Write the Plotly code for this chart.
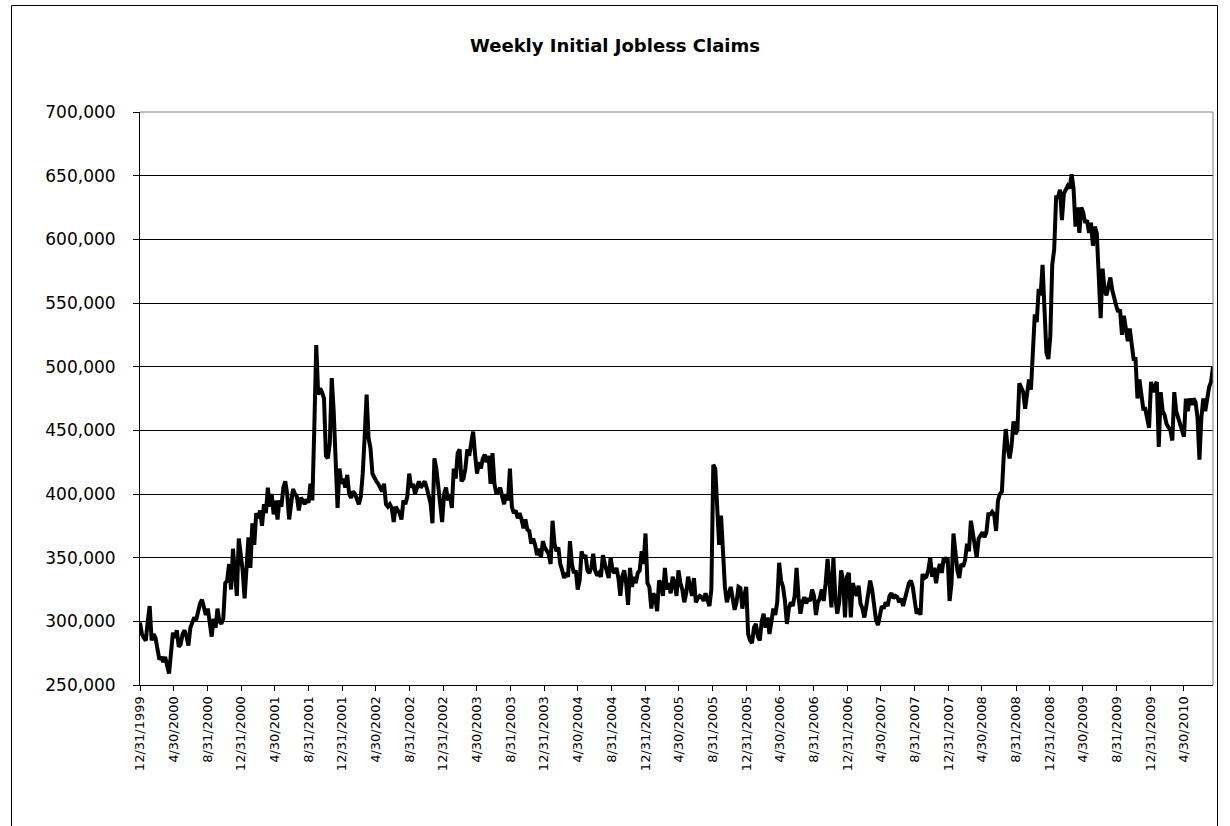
import pandas as pd
import plotly.graph_objects as go

# Weekly initial jobless claims (thousands)
claims_2000 = [299, 290, 287, 285, 300, 312, 285, 290, 287, 278, 270, 272, 268, 272, 265, 259, 275, 291,
               287, 293, 280, 282, 290, 293, 288, 281, 295, 300, 303, 301, 308, 314, 317, 312, 305, 310,
               300, 288, 302, 295, 310, 300, 298, 302, 330, 332, 345, 325, 357, 340, 320, 365, 355]
claims_2001 = [340, 318, 345, 366, 342, 377, 360, 385, 381, 387, 375, 392, 385, 405, 390, 400, 384, 395,
               380, 395, 390, 405, 410, 400, 380, 395, 404, 400, 398, 387, 397, 395, 392, 396, 393, 408,
               395, 452, 517, 478, 483, 480, 475, 430, 428, 440, 491, 465, 423, 389, 420, 408]
claims_2002 = [412, 405, 415, 400, 397, 402, 400, 395, 392, 398, 416, 445, 478, 444, 436, 416, 412, 410,
               408, 405, 402, 408, 392, 390, 392, 389, 378, 390, 388, 385, 380, 395, 392, 398, 416, 405,
               408, 400, 405, 410, 405, 408, 410, 405, 400, 393, 377, 428, 420, 405, 392, 378]
claims_2003 = [400, 405, 395, 400, 389, 420, 412, 432, 435, 410, 412, 420, 435, 430, 440, 449, 431, 416,
               425, 420, 428, 431, 425, 430, 408, 432, 408, 400, 402, 405, 398, 392, 400, 395, 420, 390,
               385, 387, 381, 385, 380, 373, 380, 372, 371, 361, 365, 360, 352, 357, 350, 363]
claims_2004 = [358, 355, 353, 345, 379, 361, 355, 358, 345, 340, 334, 338, 335, 363, 345, 338, 340, 325,
               332, 355, 350, 352, 340, 338, 342, 353, 340, 336, 338, 335, 352, 345, 340, 334, 350, 340,
               338, 342, 334, 320, 335, 340, 330, 313, 342, 327, 335, 330, 338, 340, 355, 345]
claims_2005 = [369, 330, 327, 310, 322, 319, 308, 332, 330, 320, 342, 325, 330, 322, 335, 330, 320, 340,
               330, 325, 315, 322, 335, 325, 320, 334, 315, 318, 320, 319, 316, 322, 318, 312, 325, 423,
               420, 384, 360, 383, 355, 327, 315, 320, 327, 318, 309, 315, 327, 326, 310, 320]
claims_2006 = [327, 290, 285, 283, 295, 298, 288, 285, 300, 306, 295, 303, 290, 300, 310, 305, 315, 346,
               332, 327, 316, 298, 310, 315, 312, 320, 342, 319, 306, 315, 319, 314, 318, 316, 325, 320,
               305, 315, 318, 325, 316, 330, 349, 330, 311, 350, 319, 306, 315, 340, 332, 303]
claims_2007 = [335, 338, 303, 330, 325, 320, 328, 314, 310, 303, 312, 324, 332, 325, 310, 301, 297, 305,
               312, 310, 315, 312, 320, 322, 318, 320, 319, 315, 318, 312, 318, 325, 330, 332, 327, 316,
               306, 310, 305, 337, 334, 335, 340, 350, 335, 342, 330, 340, 345, 338, 350, 348]
claims_2008 = [350, 316, 330, 369, 350, 340, 334, 345, 343, 348, 361, 355, 379, 369, 360, 350, 365, 368,
               370, 366, 370, 384, 384, 386, 384, 371, 395, 400, 402, 431, 451, 436, 428, 438, 457, 447,
               450, 487, 483, 480, 467, 480, 490, 482, 509, 541, 535, 561, 556, 580, 545, 511, 506]
claims_2009 = [524, 580, 592, 633, 633, 639, 615, 636, 640, 642, 640, 651, 640, 610, 625, 605, 625, 621,
               613, 615, 605, 613, 595, 610, 605, 569, 538, 577, 560, 556, 565, 570, 560, 553, 548, 543,
               545, 525, 540, 530, 520, 530, 519, 506, 506, 475, 490, 478, 467, 467, 460, 452]
claims_2010 = [488, 480, 485, 488, 437, 480, 465, 462, 455, 452, 450, 442, 480, 465, 460, 455, 450, 445,
               475, 465, 475, 470, 475, 472, 460, 427, 460, 475, 465, 475, 484, 488, 500]

first_week = "1999-12-31"

tick_labels = ["12/31/1999", "4/30/2000", "8/31/2000", "12/31/2000", "4/30/2001", "8/31/2001",
               "12/31/2001", "4/30/2002", "8/31/2002", "12/31/2002", "4/30/2003", "8/31/2003",
               "12/31/2003", "4/30/2004", "8/31/2004", "12/31/2004", "4/30/2005", "8/31/2005",
               "12/31/2005", "4/30/2006", "8/31/2006", "12/31/2006", "4/30/2007", "8/31/2007",
               "12/31/2007", "4/30/2008", "8/31/2008", "12/31/2008", "4/30/2009", "8/31/2009",
               "12/31/2009", "4/30/2010"]

claims_k = (claims_2000 + claims_2001 + claims_2002 + claims_2003 + claims_2004 + claims_2005 +
            claims_2006 + claims_2007 + claims_2008 + claims_2009 + claims_2010)
claims = [v * 1000 for v in claims_k]
dates = pd.date_range(start=first_week, periods=len(claims), freq="7D")
tick_dates = [pd.to_datetime(t, format="%m/%d/%Y") for t in tick_labels]

FONT = "Verdana, DejaVu Sans, sans-serif"

fig = go.Figure()
fig.add_trace(go.Scatter(x=dates, y=claims, mode="lines",
                         line=dict(color="black", width=4), hoverinfo="x+y"))

W, H = 1230, 826
L, R, T, B = 140, 17, 112, 141
pw, ph = W - L - R, H - T - B

def px_x(x):
    return (x - L) / pw

def px_y(y):
    return (H - B - y) / ph

fig.update_layout(
    width=W, height=H,
    margin=dict(l=L, r=R, t=T, b=B, pad=0),
    paper_bgcolor="white", plot_bgcolor="white",
    showlegend=False,
    font=dict(family=FONT, size=13, color="black"),
    title=dict(text="<b>Weekly Initial Jobless Claims</b>", x=0.5, xanchor="center",
               y=1 - 46 / H, yanchor="middle", font=dict(family=FONT, size=18, color="black")),
    xaxis=dict(type="date", range=[dates[0], dates[-1]], tickvals=tick_dates, ticktext=tick_labels,
               tickangle=-90, showgrid=False, zeroline=False, showline=True, linecolor="black",
               linewidth=1, ticks="outside", ticklen=5, tickcolor="black", tickwidth=1,
               tickfont=dict(family=FONT, size=13)),
    yaxis=dict(range=[250000, 700000], dtick=50000, tickformat=",", showgrid=True,
               gridcolor="black", gridwidth=1, zeroline=False, showline=True, linecolor="black",
               linewidth=1, ticks="outside", ticklen=6, tickcolor="black", tickwidth=1,
               ticklabelstandoff=14, tickfont=dict(family=FONT, size=17)),
    shapes=[
        dict(type="line", xref="paper", yref="paper", x0=0, x1=1, y0=1, y1=1,
             line=dict(color="#808080", width=1), layer="above"),
        dict(type="line", xref="paper", yref="paper", x0=1, x1=1, y0=0, y1=1,
             line=dict(color="#808080", width=1), layer="above"),
        dict(type="rect", xref="paper", yref="paper", x0=px_x(11.5), x1=px_x(1217.5),
             y0=px_y(840), y1=px_y(5.5), line=dict(color="black", width=1), layer="below"),
    ],
)

fig.write_html("out.html")
